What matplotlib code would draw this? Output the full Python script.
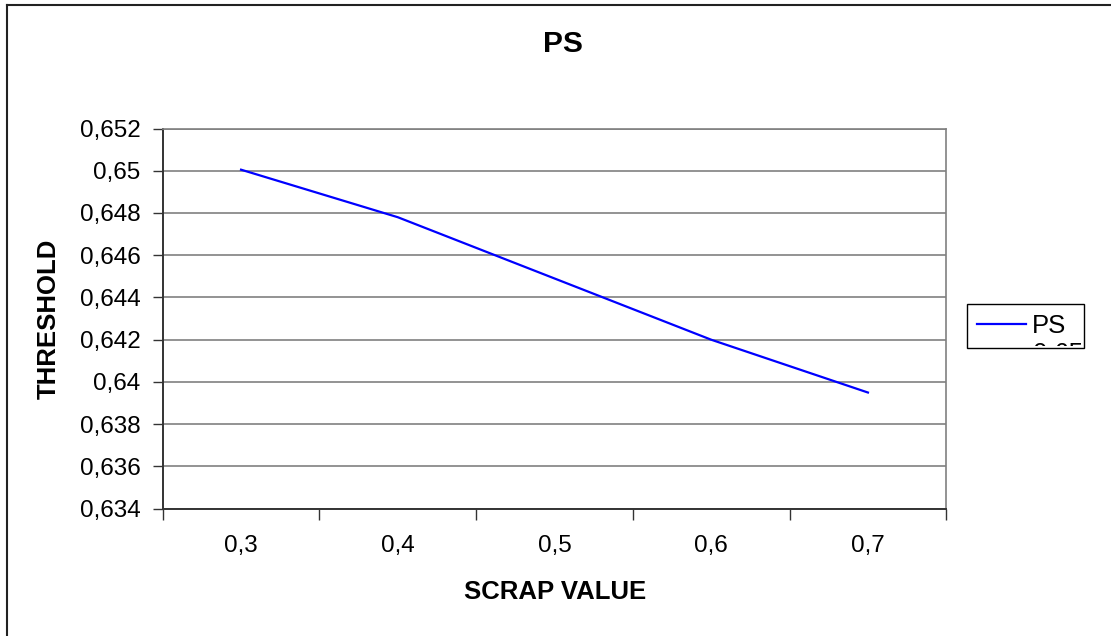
import matplotlib
matplotlib.use("Agg")
import matplotlib.pyplot as plt
from matplotlib.lines import Line2D
from matplotlib.patches import Rectangle
from matplotlib.ticker import FixedLocator, FuncFormatter

plt.rcParams['font.family'] = ['Liberation Sans', 'DejaVu Sans']

categories = ['0,3', '0,4', '0,5', '0,6', '0,7']
threshold = [0.65005, 0.6478, 0.6449, 0.6420, 0.6395]
y_ticks = [0.634, 0.636, 0.638, 0.640, 0.642, 0.644, 0.646, 0.648, 0.650, 0.652]
series_name = 'PS'
title = 'PS'
x_label = 'SCRAP VALUE'
y_label = 'THRESHOLD'

W, H = 1111, 636
fig = plt.figure(figsize=(W / 100, H / 100), dpi=100)

def fx(px):
    return px / W

def fy(py):
    return 1 - py / H

ax = fig.add_axes([fx(162.7), fy(508.7), fx(946.3) - fx(162.7), fy(128.5) - fy(508.7)])

x = list(range(len(categories)))
ax.plot(x, threshold, color='#0000FF', lw=1.6, solid_joinstyle='miter')

ax.set_xlim(-0.5, len(categories) - 0.5)
ax.set_ylim(y_ticks[0], y_ticks[-1])

ax.set_yticks(y_ticks)
ax.yaxis.set_major_formatter(FuncFormatter(lambda v, p: f"{v:.3f}".rstrip('0').rstrip('.').replace('.', ',')))
ax.yaxis.grid(True, color='#808080', lw=1.2)
ax.set_axisbelow(True)

ax.set_xticks(x)
ax.set_xticklabels(categories)
ax.xaxis.set_minor_locator(FixedLocator([i - 0.5 for i in range(len(categories) + 1)]))
ax.tick_params(axis='x', which='major', length=0, pad=19, labelsize=17.5)
ax.tick_params(axis='x', which='minor', length=8, width=1, color='#333333')
ax.tick_params(axis='y', which='major', length=7, width=1, color='#333333', pad=9, labelsize=17.5)

for s in ['left', 'bottom']:
    ax.spines[s].set_color('#333333')
    ax.spines[s].set_linewidth(1.4)
for s in ['top', 'right']:
    ax.spines[s].set_color('#808080')
    ax.spines[s].set_linewidth(1.2)

fig.text(fx(562.5), fy(44), title, ha='center', va='center', fontsize=21.5, fontweight='bold')
fig.text(fx(555), fy(592), x_label, ha='center', va='center', fontsize=18.5, fontweight='bold')
fig.text(fx(49), fy(319), y_label, ha='center', va='center', fontsize=18.5, fontweight='bold', rotation=90)

# Legend
leg = ax.legend([Line2D([0], [0], color='#0000FF', lw=1.6)], [series_name],
                loc='upper left',
                bbox_to_anchor=(fx(967), fy(304) - 0.0001, fx(1084) - fx(967), 0.0001),
                bbox_transform=fig.transFigure, mode='expand',
                frameon=True, fancybox=False, edgecolor='#000000', framealpha=1,
                fontsize=18.5, handlelength=1.9, handletextpad=0.25, borderpad=0.38,
                borderaxespad=0, labelspacing=0)
leg.get_frame().set_linewidth(1.0)

clip = Rectangle((fx(967), fy(346)), fx(1084) - fx(967), fy(304) - fy(346),
                 transform=fig.transFigure, fill=False, visible=False)
fig.add_artist(clip)
t = fig.text(fx(1033), fy(341), '0,65', ha='left', va='top', fontsize=18.5)
t.set_clip_path(clip)

# Chart area border
fig.add_artist(Line2D([fx(7), 1], [fy(5), fy(5)], transform=fig.transFigure, color='#222222', lw=1.5))
fig.add_artist(Line2D([fx(7), fx(7)], [0, fy(5)], transform=fig.transFigure, color='#222222', lw=1.5))

fig.savefig('out.png', dpi=100)
